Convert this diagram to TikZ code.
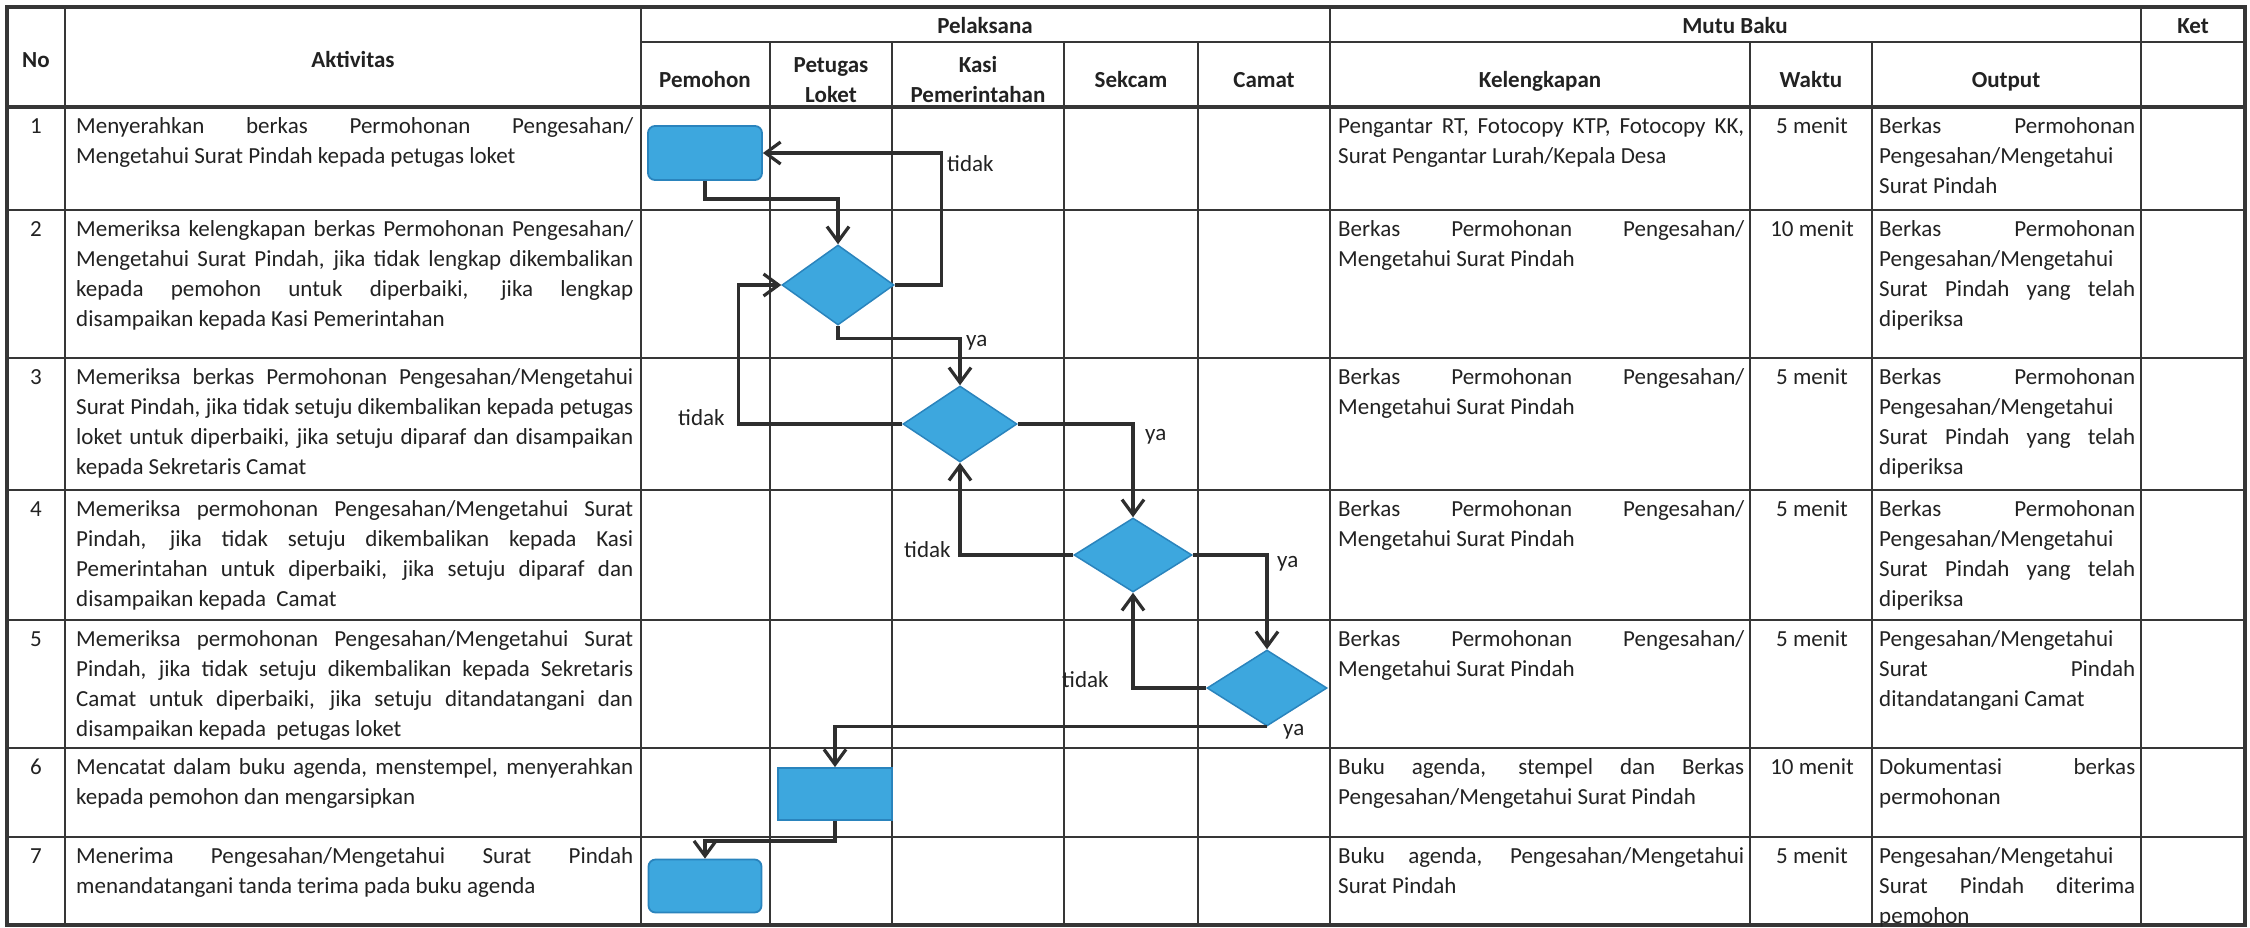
\documentclass[tikz,border=0pt]{standalone}
\usepackage{fontspec}
\setmainfont{Carlito}
\usetikzlibrary{arrows.meta,shapes.geometric}
\definecolor{gridc}{HTML}{363636}
\definecolor{linec}{HTML}{2E2E2E}
\definecolor{boxfill}{HTML}{3DA7DE}
\definecolor{boxline}{HTML}{2A84BD}
\definecolor{txt}{HTML}{222222}
\newcommand\jus[1]{\hbox to\hsize{\strut #1}}
\newcommand\lft[1]{\hbox{\strut #1}}
\hbadness=10000 \hfuzz=60pt
\begin{document}
\begin{tikzpicture}[x=1pt,y=-1pt,
  every node/.style={font=\fontsize{23}{30}\selectfont, text=txt, inner sep=0pt},
  grid/.style={draw=gridc, line width=2.4pt},
  heavy/.style={draw=gridc, line width=4pt},
  hdr/.style={anchor=base, font=\fontsize{23}{30}\selectfont\bfseries},
  hdrtwo/.style={anchor=north, align=center, font=\fontsize{23}{30}\selectfont\bfseries},
  cellbox/.style={anchor=north west},
  wkt/.style={anchor=base},
  num/.style={anchor=base},
  lab/.style={anchor=base west},
  proc/.style={draw=boxline, fill=boxfill, line width=1.8pt},
  dec/.style={diamond, draw=boxline, fill=boxfill, line width=1.5pt},
  arr/.style={draw=linec, line width=3.2pt, line join=miter, -{Straight Barb[length=15pt,width=22pt]}},
]
\useasboundingbox (0,0) rectangle (2250,927);
\fill[white] (0,0) rectangle (2250,927);

% ---------- grid ----------
\foreach \yy in {210,358,490,620,748,837} \draw[grid] (7,\yy) -- (2245,\yy);
\draw[grid] (641,42) -- (2245,42);
\foreach \xx in {65,641,1330,2141} \draw[grid] (\xx,7) -- (\xx,925);
\foreach \xx in {770,892,1064,1198,1750,1872} \draw[grid] (\xx,42) -- (\xx,925);
\draw[heavy] (7,107) -- (2245,107);
\draw[heavy] (7,7) rectangle (2245,925);

% ---------- header ----------
\node[hdr] (hno) at (36,67) {No};
\node[hdr] (hakt) at (353,67) {Aktivitas};
\node[hdr] (hpel) at (985,33) {Pelaksana};
\node[hdr] (hmutu) at (1735,33) {Mutu Baku};
\node[hdr] (hket) at (2193,33) {Ket};
\node[hdr] (hpem) at (705,87) {Pemohon};
\node[hdrtwo] (hpet) at (831,51) {\strut Petugas\\\strut Loket};
\node[hdrtwo] (hkasi) at (978,51) {\strut Kasi\\\strut Pemerintahan};
\node[hdr] (hsek) at (1131,87) {Sekcam};
\node[hdr] (hcam) at (1264,87) {Camat};
\node[hdr] (hkel) at (1540,87) {Kelengkapan};
\node[hdr] (hwak) at (1811,87) {Waktu};
\node[hdr] (hout) at (2006,87) {Output};

% ---------- row numbers ----------
\node[num] (n1) at (36,133) {1};
\node[num] (n2) at (36,236) {2};
\node[num] (n3) at (36,384) {3};
\node[num] (n4) at (36,516) {4};
\node[num] (n5) at (36,646) {5};
\node[num] (n6) at (36,774) {6};
\node[num] (n7) at (36,863) {7};

% ---------- Aktivitas ----------
\node[cellbox] (a1) at (76,112) {\vbox{\hsize=557pt \jus{Menyerahkan berkas Permohonan Pengesahan/}\lft{Mengetahui Surat Pindah kepada petugas loket}}};
\node[cellbox] (a2) at (76,215) {\vbox{\hsize=557pt \jus{Memeriksa kelengkapan berkas Permohonan Pengesahan/}\jus{Mengetahui Surat Pindah, jika tidak lengkap dikembalikan}\jus{kepada pemohon untuk diperbaiki, jika lengkap}\lft{disampaikan kepada Kasi Pemerintahan}}};
\node[cellbox] (a3) at (76,363) {\vbox{\hsize=557pt \jus{Memeriksa berkas Permohonan Pengesahan/Mengetahui}\jus{Surat Pindah, jika tidak setuju dikembalikan kepada petugas}\jus{loket untuk diperbaiki, jika setuju diparaf dan disampaikan}\lft{kepada Sekretaris Camat}}};
\node[cellbox] (a4) at (76,495) {\vbox{\hsize=557pt \jus{Memeriksa permohonan Pengesahan/Mengetahui Surat}\jus{Pindah, jika tidak setuju dikembalikan kepada Kasi}\jus{Pemerintahan untuk diperbaiki, jika setuju diparaf dan}\lft{disampaikan kepada\ \ Camat}}};
\node[cellbox] (a5) at (76,625) {\vbox{\hsize=557pt \jus{Memeriksa permohonan Pengesahan/Mengetahui Surat}\jus{Pindah, jika tidak setuju dikembalikan kepada Sekretaris}\jus{Camat untuk diperbaiki, jika setuju ditandatangani dan}\lft{disampaikan kepada\ \ petugas loket}}};
\node[cellbox] (a6) at (76,753) {\vbox{\hsize=557pt \jus{Mencatat dalam buku agenda, menstempel, menyerahkan}\lft{kepada pemohon dan mengarsipkan}}};
\node[cellbox] (a7) at (76,842) {\vbox{\hsize=557pt \jus{Menerima Pengesahan/Mengetahui Surat Pindah}\lft{menandatangani tanda terima pada buku agenda}}};

% ---------- Kelengkapan ----------
\node[cellbox] (k1) at (1338,112) {\vbox{\hsize=406pt \jus{Pengantar RT, Fotocopy KTP, Fotocopy KK,}\lft{Surat Pengantar Lurah/Kepala Desa}}};
\node[cellbox] (k2) at (1338,215) {\vbox{\hsize=406pt \jus{Berkas Permohonan Pengesahan/}\lft{Mengetahui Surat Pindah}}};
\node[cellbox] (k3) at (1338,363) {\vbox{\hsize=406pt \jus{Berkas Permohonan Pengesahan/}\lft{Mengetahui Surat Pindah}}};
\node[cellbox] (k4) at (1338,495) {\vbox{\hsize=406pt \jus{Berkas Permohonan Pengesahan/}\lft{Mengetahui Surat Pindah}}};
\node[cellbox] (k5) at (1338,625) {\vbox{\hsize=406pt \jus{Berkas Permohonan Pengesahan/}\lft{Mengetahui Surat Pindah}}};
\node[cellbox] (k6) at (1338,753) {\vbox{\hsize=406pt \jus{Buku agenda, stempel dan Berkas}\lft{Pengesahan/Mengetahui Surat Pindah}}};
\node[cellbox] (k7) at (1338,842) {\vbox{\hsize=406pt \jus{Buku agenda, Pengesahan/Mengetahui}\lft{Surat Pindah}}};

% ---------- Waktu ----------
\node[wkt] (w1) at (1812,133) {5 menit};
\node[wkt] (w2) at (1812,236) {10 menit};
\node[wkt] (w3) at (1812,384) {5 menit};
\node[wkt] (w4) at (1812,516) {5 menit};
\node[wkt] (w5) at (1812,646) {5 menit};
\node[wkt] (w6) at (1812,774) {10 menit};
\node[wkt] (w7) at (1812,863) {5 menit};

% ---------- Output ----------
\node[cellbox] (o1) at (1879,112) {\vbox{\hsize=256pt \jus{Berkas Permohonan}\lft{Pengesahan/Mengetahui}\lft{Surat Pindah}}};
\node[cellbox] (o2) at (1879,215) {\vbox{\hsize=256pt \jus{Berkas Permohonan}\lft{Pengesahan/Mengetahui}\jus{Surat Pindah yang telah}\lft{diperiksa}}};
\node[cellbox] (o3) at (1879,363) {\vbox{\hsize=256pt \jus{Berkas Permohonan}\lft{Pengesahan/Mengetahui}\jus{Surat Pindah yang telah}\lft{diperiksa}}};
\node[cellbox] (o4) at (1879,495) {\vbox{\hsize=256pt \jus{Berkas Permohonan}\lft{Pengesahan/Mengetahui}\jus{Surat Pindah yang telah}\lft{diperiksa}}};
\node[cellbox] (o5) at (1879,625) {\vbox{\hsize=256pt \lft{Pengesahan/Mengetahui}\jus{Surat Pindah}\lft{ditandatangani Camat}}};
\node[cellbox] (o6) at (1879,753) {\vbox{\hsize=256pt \jus{Dokumentasi berkas}\lft{permohonan}}};
\node[cellbox] (o7) at (1879,842) {\vbox{\hsize=256pt \lft{Pengesahan/Mengetahui}\jus{Surat Pindah diterima}\lft{pemohon}}};

% ---------- flowchart ----------
\node[proc, rounded corners=7pt, minimum width=114pt, minimum height=54pt] (b1) at (705,153) {};
\node[dec, minimum width=112pt, minimum height=80pt] (d1) at (838,285) {};
\node[dec, minimum width=114pt, minimum height=76pt] (d2) at (960,424) {};
\node[dec, minimum width=118pt, minimum height=74pt] (d3) at (1133,555) {};
\node[dec, minimum width=120pt, minimum height=76pt] (d4) at (1267,688) {};
\node[proc, minimum width=114pt, minimum height=52pt] (b6) at (835,794) {};
\node[proc, rounded corners=7pt, minimum width=113pt, minimum height=53pt] (b7) at (705,886) {};

\draw[arr] (b1.south) -- ++(0,18) -| (d1.north);
\draw[arr] (d1.east) -- ++(47,0) |- (b1.east);
\draw[arr] (d1.south) -- ++(0,13) -| (d2.north);
\draw[arr] (d2.west) -- ++(-164,0) |- (d1.west);
\draw[arr] (d2.east) -| (d3.north);
\draw[arr] (d3.west) -| (d2.south);
\draw[arr] (d3.east) -| (d4.north);
\draw[arr] (d4.west) -| (d3.south);
\draw[arr] (d4.south) -| (b6.north);
\draw[arr] (b6.south) -- ++(0,20) -| (b7.north);

\node[lab] (l1) at (947,171) {tidak};
\node[lab] (l2) at (966,346) {ya};
\node[lab] (l3) at (678,425) {tidak};
\node[lab] (l4) at (1145,440) {ya};
\node[lab] (l5) at (904,557) {tidak};
\node[lab] (l6) at (1277,567) {ya};
\node[lab] (l7) at (1062,687) {tidak};
\node[lab] (l8) at (1283,735) {ya};
\end{tikzpicture}
\end{document}
